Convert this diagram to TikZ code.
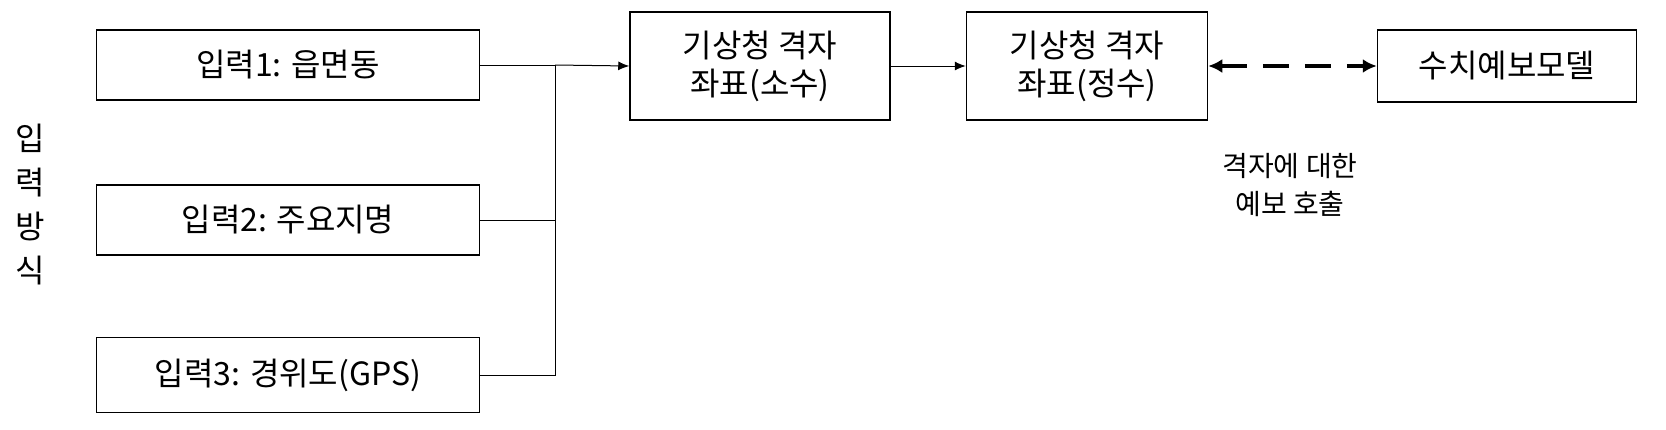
\documentclass[tikz,border=0pt]{standalone}
\usepackage{fontspec}
\setmainfont{Noto Sans CJK KR}
\usetikzlibrary{positioning,arrows.meta}

\begin{document}
\begin{tikzpicture}[
  x=1pt, y=-1pt,
  inbox/.style={
    rectangle,
    draw=black,
    line width=1.5pt,
    inner sep=0pt,
    minimum width=383pt,
    minimum height=70pt,
    font=\fontsize{32}{38}\selectfont
  },
 gridbox/.style={
    rectangle,
    draw=black,
    line width=1.5pt,
    inner sep=0pt,
    minimum height=108pt,
    align=center,
    font=\fontsize{32}{38}\selectfont
  },
 link/.style={line width=1pt, -{Latex[length=11pt,width=9pt]}}]
  \useasboundingbox (0,0) rectangle (1666,429);
  \node[inbox] (in1) at (288,65) {입력1: 읍면동};
  \node[inbox] (in2) at (288,220) {입력2: 주요지명};
  \node[inbox, minimum height=75pt] (in3) at (288,375) {입력3: 경위도(GPS)};
  \node[align=center, font=\fontsize{32}{44}\selectfont] (method) at (30,205) {입\\력\\방\\식};
  \node[gridbox, minimum width=260pt] (frac) at (760,66) {기상청 격자\\좌표(소수)};
  \node[gridbox, minimum width=241pt] (int) at (1087,66) {기상청 격자\\좌표(정수)};
  \node[inbox, minimum width=259pt, minimum height=72pt] (model) at (1507,66) {수치예보모델};
  \node[align=center, font=\fontsize{28}{38}\selectfont] (call) at (1290,185) {격자에 대한\\예보 호출};
  \coordinate (join) at (555,65);
  % inputs merge
  \draw[line width=1pt] (in1.east) -- (join);
  \draw[line width=1pt] (in2.east) -- (in2.east -| join);
  \draw[line width=1pt] (in3.east) -- (in3.east -| join) -- (join);
  \draw[link] (join) -- (frac.west);
  \draw[link] (frac.east) -- (int.west);
  \draw[line width=4pt, dash pattern=on 26pt off 16pt, {Latex[length=14pt,width=14pt]}-{Latex[length=14pt,width=14pt]}] (int.east) -- (model.west);
\end{tikzpicture}
\end{document}
